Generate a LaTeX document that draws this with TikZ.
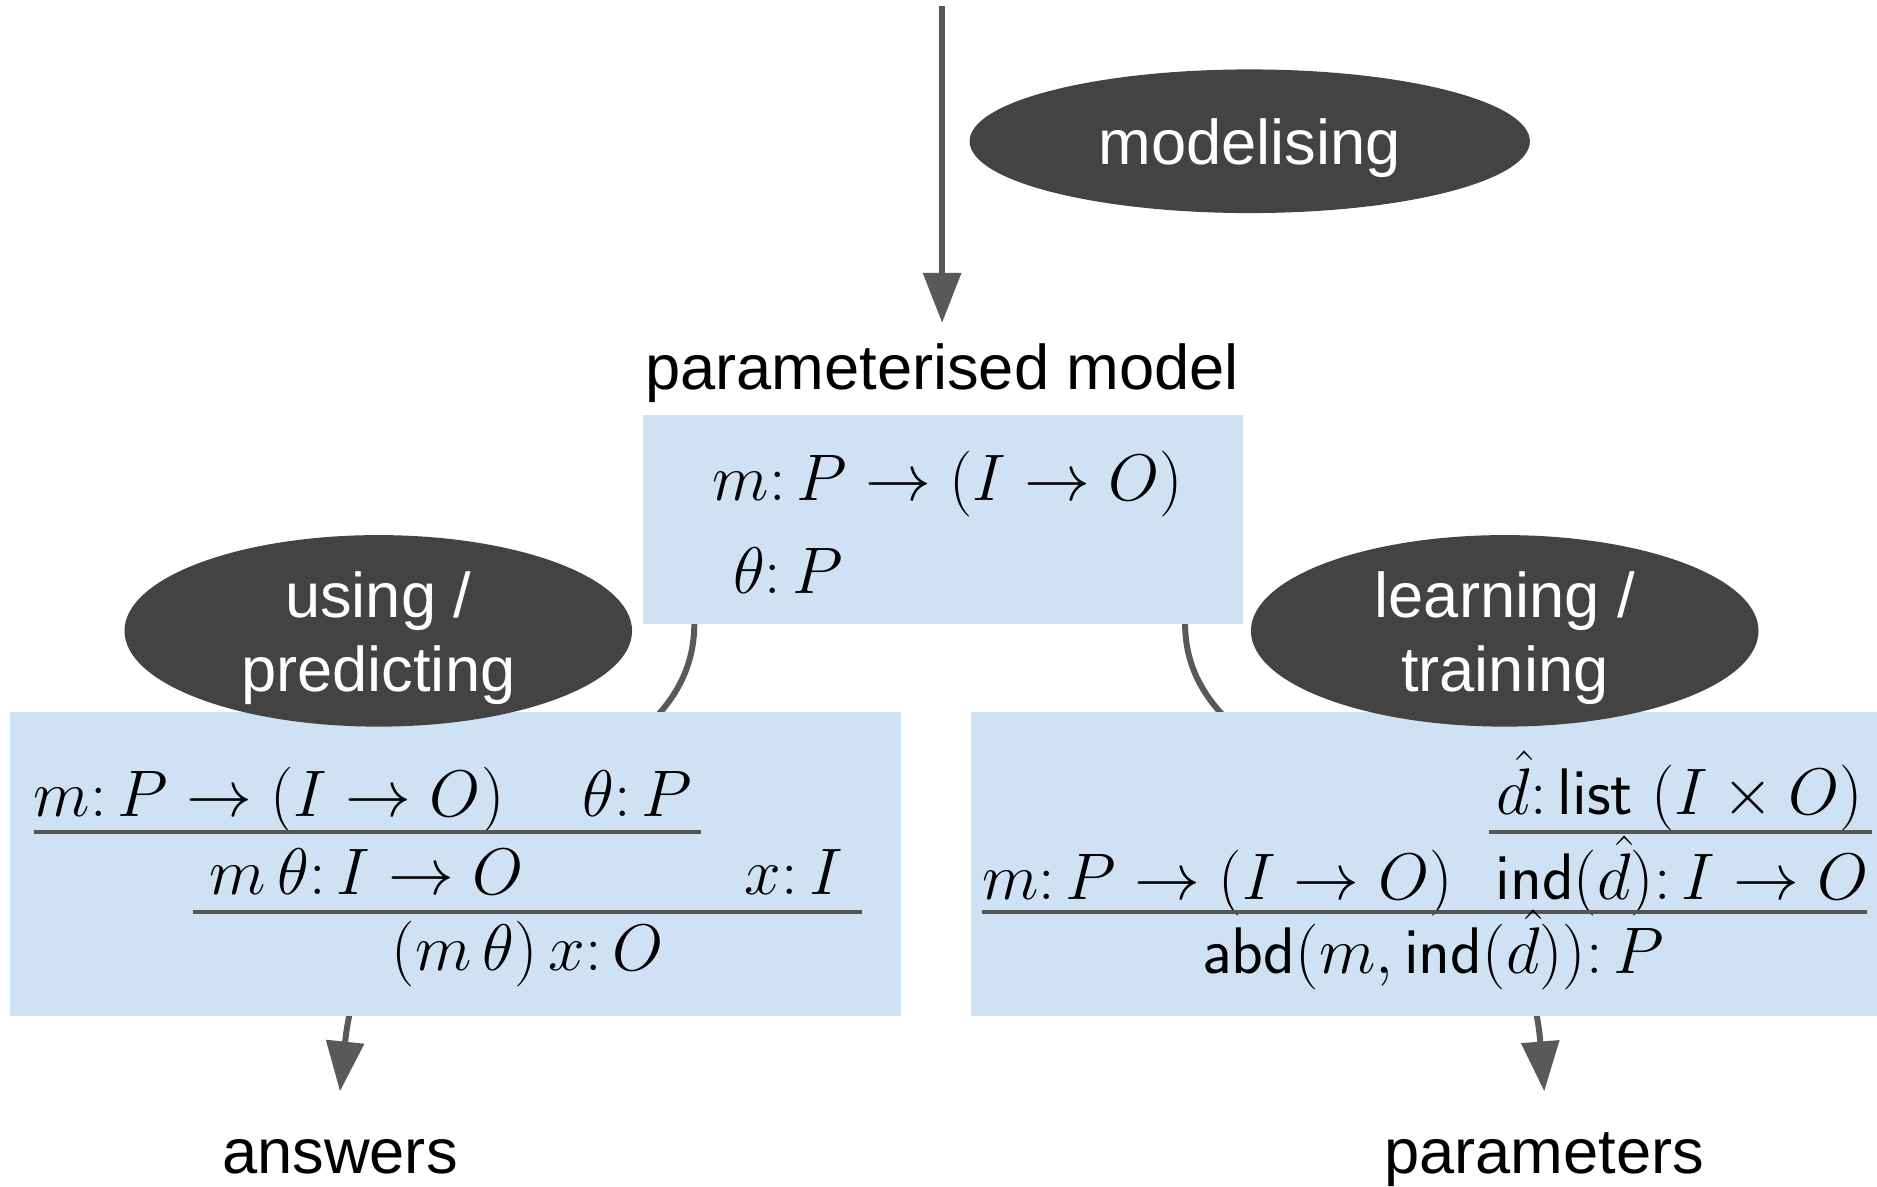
\RequirePackage{fix-cm}
\documentclass[tikz,border=0pt]{standalone}
\usepackage{fontspec}
\newfontfamily\labfont{Liberation Sans}
\usetikzlibrary{arrows.meta,shapes.geometric,calc,fit}
\definecolor{boxblue}{HTML}{CFE2F3}
\definecolor{ovalgray}{HTML}{434343}
\definecolor{conngray}{HTML}{595959}
\definecolor{rulegray}{HTML}{555555}
\newcommand\mathsz{\fontsize{33}{40}\selectfont}
\pgfdeclarelayer{bg}
\pgfsetlayers{bg,main}
\tikzset{
  conn/.style={draw=conngray, line width=3pt, -{Triangle[length=25pt,width=18.6pt]}},
  panel/.style={fill=boxblue, draw=none, inner sep=0pt, outer sep=0pt},
  oval/.style={ellipse, fill=ovalgray, draw=none, inner sep=0pt},
  ovaltxt/.style={text=white, align=center, inner sep=0pt,
    font=\labfont\fontsize{31.7}{37.2}\selectfont},
  lbl/.style={font=\labfont\fontsize{31.7}{38}\selectfont, text=black, inner sep=0pt, anchor=base},
  fml/.style={inner sep=0pt, anchor=base west, font=\mathsz},
  infline/.style={draw=rulegray, line width=1.7pt}
}
\begin{document}
\begin{tikzpicture}[x=0.6pt,y=-0.6pt]
\useasboundingbox (0,0) rectangle (1568,991);
% panels
\node[panel, fit={(537,347) (1038,521)}] (top) {};
\node[panel, fit={(8,595) (753,849)}] (lbox) {};
\node[panel, fit={(811,595) (1568,849)}] (rbox) {};
% top panel content
\node[fml] (t1) at (595,418) {$m\colon P\to(I\to O)$};
\node[fml] (t2) at (612,496) {$\theta\colon P$};
% left panel content
\node[fml] (l1a) at (28,682) {$m\colon P\to(I\to O)$};
\node[fml] (l1b) at (486,682) {$\theta\colon P$};
\draw[infline] (28,695) -- (586,695);
\node[fml] (l2a) at (175,747) {$m\,\theta\colon I\to O$};
\node[fml] (l2b) at (622,747) {$x\colon I$};
\draw[infline] (161,762) -- (720,762);
\node[fml] (l3) at (327,811) {$(m\,\theta)\,x\colon O$};
% right panel content
\node[fml] (r1) at (1250,680) {$\hat{d}\colon \mathsf{list}\;(I\times O)$};
\draw[infline] (1244,695) -- (1564,695);
\node[fml] (r2a) at (820,751) {$m\colon P\to(I\to O)$};
\node[fml] (r2b) at (1249,751) {$\mathsf{ind}(\hat{d})\colon I\to O$};
\draw[infline] (820,762) -- (1560,762);
\node[fml] (r3) at (1004,813) {$\mathsf{abd}(m,\mathsf{ind}(\hat{d}))\colon P$};
% ovals
\node[oval, minimum width=280.8pt, minimum height=72pt] (model) at (1044,118) {};
\node[ovaltxt] (modeltxt) at (1044,124) {modelising};
\node[oval, minimum width=254.4pt, minimum height=96pt] (use) at (316,527) {};
\node[ovaltxt] (usetxt) at (316,533) {using /\\predicting};
\node[oval, minimum width=254.4pt, minimum height=96pt] (learn) at (1257,527) {};
\node[ovaltxt] (learntxt) at (1257,533) {learning /\\training};
% labels
\node[lbl, text height=33pt] (pm) at (787,325) {parameterised model};
\node[lbl, text height=40.8pt] (ans) at (284,980) {answers};
\node[lbl, text height=40.8pt] (par) at (1290,980) {parameters};
\coordinate (src) at (787,5);
% connectors
\begin{pgfonlayer}{bg}
\draw[conn] (src) -- (pm.north);
\draw[conn] ($(top.south west)+(43,0)$) .. controls +(0,150) and +(26,-250) .. (ans.north);
\draw[conn] ($(top.south east)+(-48,0)$) .. controls +(0,150) and +(-20,-250) .. (par.north);
\end{pgfonlayer}
\end{tikzpicture}
\end{document}
